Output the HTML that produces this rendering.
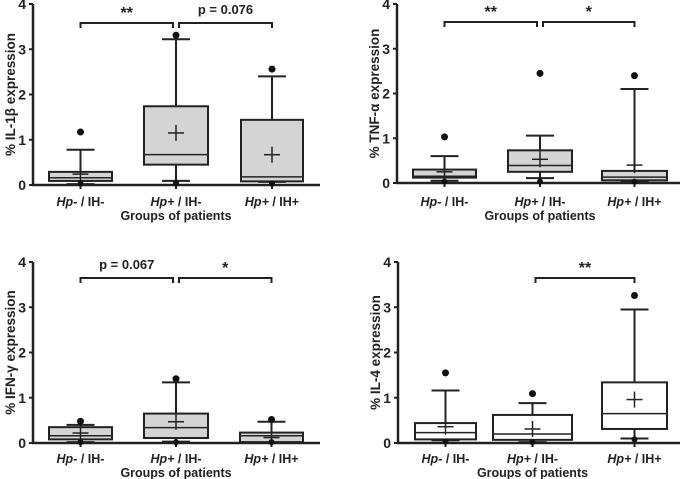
<!DOCTYPE html>
<html><head><meta charset="utf-8"><style>
body{margin:0;background:#fff;}
svg{display:block;font-family:"Liberation Sans",Arial,sans-serif;}
</style></head><body>
<svg id="c" width="685" height="479" viewBox="0 0 685 479"></svg>
<script>
const groups = ["Hp- / IH-","Hp+ / IH-","Hp+ / IH+"];
const yTicks = [0,1,2,3,4];
// per panel: [whiskerLow, q1, median, q3, whiskerHigh, mean, outlierHigh, outlierLow]
const il1b = [[0.02,0.09,0.16,0.29,0.78,0.24,1.17,0.03],[0.09,0.45,0.67,1.74,3.22,1.15,3.31,0.05],[0.07,0.08,0.18,1.44,2.40,0.67,2.56,0.03]];
const tnfa = [[0.05,0.12,0.15,0.30,0.60,0.25,1.03,0.03],[0.11,0.25,0.39,0.73,1.06,0.53,2.45,0.03],[0.03,0.06,0.13,0.27,2.10,0.40,2.40,0.03]];
const ifng = [[0.02,0.08,0.16,0.35,0.40,0.22,0.48,0.02],[0.03,0.11,0.34,0.65,1.34,0.47,1.42,0.02],[0.02,0.02,0.16,0.23,0.47,0.12,0.52,0.02]];
const il4 = [[0.06,0.08,0.23,0.44,1.16,0.36,1.55,0.03],[0.02,0.07,0.20,0.62,0.88,0.31,1.09,0.02],[0.10,0.31,0.65,1.34,2.95,0.96,3.26,0.08]];
const brackets1 = [[0,1,"**"],[1,2,"p = 0.076"]];
const brackets2 = [[0,1,"**"],[1,2,"*"]];
const brackets3 = [[0,1,"p = 0.067"],[1,2,"*"]];
const brackets4 = [[1,2,"**"]];

const NS="http://www.w3.org/2000/svg";
const svg=document.getElementById('c');
function mk(tag,attrs,parent,text){const e=document.createElementNS(NS,tag);for(const k in attrs)e.setAttribute(k,attrs[k]);if(text!==undefined)e.textContent=text;parent.appendChild(e);return e;}

const panels=[
 {name:"il1b",data:il1b,br:brackets1,ax:33,xEnd:320,y0:185,y4:4,boxes:[[49,112],[144,208],[241,303]],brY:23,label:"% IL-1β expression",fill:"#d4d4d4",title:true,lblY:206},
 {name:"tnfa",data:tnfa,br:brackets2,ax:397,xEnd:680,y0:183,y4:4,boxes:[[413,476],[508,572],[602,667]],brY:22,label:"% TNF-α expression",fill:"#d4d4d4",title:true,lblY:206},
 {name:"ifng",data:ifng,br:brackets3,ax:33,xEnd:320,y0:443,y4:262,boxes:[[49,112],[144,208],[240,303]],brY:278,label:"% IFN-γ expression",fill:"#d4d4d4",title:true,lblY:463},
 {name:"il4",data:il4,br:brackets4,ax:398,xEnd:680,y0:443,y4:262,boxes:[[415,476],[493,572],[602,667]],brY:278,label:"% IL-4 expression",fill:"#ffffff",title:true,lblY:463}
];
const ink="#222";
panels.forEach(p=>{
 const g=mk('g',{},svg);
 
 
 const y=v=>p.y0+(p.y4-p.y0)*v/4;
 const ya=mk('line',{x1:p.ax,y1:p.y4,x2:p.ax,y2:p.y0+1,stroke:ink,'stroke-width':2.5},g);
 
 
 const xa=mk('line',{x1:p.ax-1,y1:p.y0,x2:p.xEnd,y2:p.y0,stroke:ink,'stroke-width':2.5},g);
 
 
 yTicks.forEach(t=>{
  mk('line',{x1:p.ax-4,y1:y(t),x2:p.ax,y2:y(t),stroke:ink,'stroke-width':2},g);
  const tl=mk('text',{x:p.ax-7,y:y(t)+5,'text-anchor':'end','font-size':14,'font-weight':'bold',fill:ink},g,String(t));
  
  
 });
 const cy=(p.y0+p.y4)/2;
 const yl=mk('text',{x:0,y:0,transform:`translate(${p.ax-18},${cy}) rotate(-90)`,'text-anchor':'middle','font-size':13.5,'font-weight':'bold',fill:ink},g,p.label);
 
 
 p.data.forEach((d,i)=>{
  const [l,r]=p.boxes[i];const cx=(l+r)/2;
  mk('line',{x1:cx,y1:p.y0+4,x2:cx,y2:p.y0,stroke:ink,'stroke-width':2},g);
  const bg=mk('g',{},g);
  
  
  mk('line',{x1:cx,y1:y(d[0]),x2:cx,y2:y(d[4]),stroke:ink,'stroke-width':2},bg);
  mk('line',{x1:cx-14,y1:y(d[4]),x2:cx+14,y2:y(d[4]),stroke:ink,'stroke-width':2},bg);
  mk('line',{x1:cx-14,y1:y(d[0]),x2:cx+14,y2:y(d[0]),stroke:ink,'stroke-width':2},bg);
  mk('rect',{x:l,y:y(d[3]),width:r-l,height:y(d[1])-y(d[3]),fill:p.fill,stroke:ink,'stroke-width':2},bg);
  mk('line',{x1:l,y1:y(d[2]),x2:r,y2:y(d[2]),stroke:ink,'stroke-width':1.5},bg);
  mk('line',{x1:cx-8,y1:y(d[5]),x2:cx+8,y2:y(d[5]),stroke:ink,'stroke-width':1.5},bg);
  mk('line',{x1:cx,y1:y(d[5])-8,x2:cx,y2:y(d[5])+8,stroke:ink,'stroke-width':1.5},bg);
  mk('circle',{cx:cx,cy:y(d[6]),r:3.5,fill:'#111'},bg);
  mk('circle',{cx:cx,cy:y(d[7]),r:3,fill:'#111'},bg);
  const xl=mk('text',{x:cx,y:p.lblY,'text-anchor':'middle','font-size':12.5,'font-weight':'bold',fill:ink},g);
  
  
  const parts=groups[i].split(' / ');
  mk('tspan',{'font-style':'italic'},xl,parts[0]);
  mk('tspan',{},xl,' / '+parts[1]);
 });
 if(p.title){
  const cx=(p.boxes[1][0]+p.boxes[1][1])/2;
  const tt=mk('text',{x:cx,y:p.lblY+14,'text-anchor':'middle','font-size':12.5,'font-weight':'bold',fill:ink},g,'Groups of patients');
  
  
 }
 p.br.forEach(b=>{
  const ca=(p.boxes[b[0]][0]+p.boxes[b[0]][1])/2, cb=(p.boxes[b[1]][0]+p.boxes[b[1]][1])/2;
  const x1=ca+(b[0]===1?3:0), x2=cb-(b[1]===1?3:0);
  const bp=mk('path',{d:`M${x1},${p.brY+5}V${p.brY}H${x2}V${p.brY+5}`,fill:'none',stroke:ink,'stroke-width':2},g);
  
  
  const star=b[2].startsWith('*');
  const bt=mk('text',{x:(x1+x2)/2,y:p.brY-(star?5:9),'text-anchor':'middle','font-size':star?16:13,'font-weight':'bold',fill:ink},g,b[2]);
  
  
 });
});
</script>
</body></html>
